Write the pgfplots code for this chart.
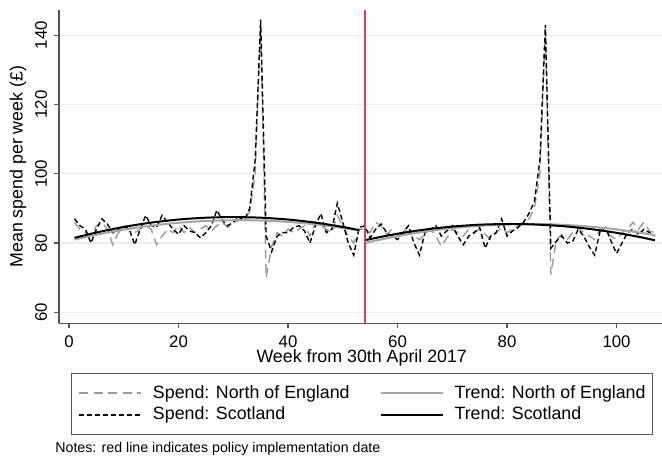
\documentclass[border=0pt]{standalone}
\usepackage{fontspec}
\setmainfont{Liberation Sans}
\usepackage{pgfplots}
\usepackage{pgfplotstable}
\pgfplotsset{compat=1.18}
\definecolor{redline}{RGB}{214,62,92}
\definecolor{gridc}{RGB}{230,238,241}
\definecolor{axc}{RGB}{85,85,85}
\definecolor{noe}{RGB}{155,155,155}
\definecolor{noetr}{RGB}{165,165,165}

\pgfplotstableread{
week scot noe
1 87 86
2 85 84
3 84 83
4 80 82
5 84 85
6 87 86
7 85.5 84
8 83 79.5
9 84 83
10 85 84
11 84 85
12 79.5 83
13 84 84
14 88 85
15 85 84
16 84.5 79.5
17 88 82
18 86 84
19 84 83
20 82.5 85
21 85 83
22 83.5 84.5
23 83 83
24 81.5 84
25 83 85
26 85 83.5
27 89.5 85
28 86.5 86
29 85 84.5
30 86 86
31 87.5 86.5
32 86.5 87
33 90 89
34 104 100
35 144.5 143
36 82 70
37 77.5 79
38 82 83
39 83 82
40 83 84
41 84.5 83
42 85 84
43 83.5 85
44 80 82
45 85 86
46 88.5 85
47 83 84
48 84 83
49 91.5 88
50 86 85
51 80 82
52 76.5 80
53 84.5 84
54 85 84
55 81.5 83
56 84 86
57 85.5 85
58 83 82.5
59 82 84
60 81 82
61 83 84
62 85 83
63 80 82
64 76.5 81
65 83 82.5
66 84 84
67 85 82
68 82 79
69 83.5 81.5
70 85 84
71 82 83
72 79.5 82
73 82 84
74 83 83
75 84.5 84
76 78.5 82.5
77 82 81
78 83 83
79 87 84.5
80 82 83
81 83.5 84
82 84.5 85
83 86 85.5
84 88.5 87
85 92 90
86 104 100
87 143 142
88 78.5 71
89 80.5 81
90 82 82.5
91 80 81
92 80.5 83
93 84 84.5
94 82 83
95 79 82
96 76.5 81
97 83.5 84
98 84.5 83
99 80.5 82
100 77 81
101 80 83
102 83 84
103 84 86
104 82.5 84
105 84 86
106 83 83.5
107 82 83
}\spend

\pgfplotstableread{
x y
1 81.5
5 83.04
10 84.65
15 85.9
20 86.79
25 87.32
30 87.5
35 87.32
40 86.79
45 85.9
50 84.65
53 83.73
}\scotA
\pgfplotstableread{
x y
54 80.8
58 82.11
62 83.21
66 84.09
70 84.76
75 85.3
80.5 85.5
85 85.36
90 84.9
95 84.09
100 82.95
104 81.8
107 80.8
}\scotB
\pgfplotstableread{
x y
1 81.0
5 82.4
10 83.86
15 85.01
20 85.85
25 86.38
31 86.6
35 86.5
40 86.1
45 85.38
50 84.35
53 83.59
}\noeA
\pgfplotstableread{
x y
54 80.0
58 81.37
62 82.54
66 83.52
70 84.3
75 85.0
80 85.4
84 85.5
88 85.4
92 85.1
96 84.62
100 83.94
104 83.06
107 82.27
}\noeB

\begin{document}
\begin{tikzpicture}
\useasboundingbox (-29.5pt,-65.85pt) rectangle (301.5pt,161.65pt);
\begin{axis}[
  width=301.5pt, height=156.65pt, scale only axis,
  xmin=-1.83, xmax=108.3, ymin=56.82, ymax=147.3,
  axis x line*=bottom, axis y line*=left,
  axis line style={axc, line width=0.7pt},
  xtick={0,20,...,100}, ytick={60,80,...,140},
  tick align=outside, major tick length=2.5pt,
  tick style={axc, line width=0.7pt},
  ymajorgrids, grid style={gridc, line width=0.6pt},
  /pgf/number format/assume math mode=true,
  tick label style={font=\fontsize{8.4}{10}\selectfont},
  yticklabel style={rotate=90, anchor=south},
  label style={font=\fontsize{8.9}{10}\selectfont},
  xlabel={Week from 30th April 2017},
  ylabel={Mean spend per week (£)},
  xlabel style={at={(axis description cs:0.502,0)}, anchor=center, yshift=-17.35pt},
  ylabel style={at={(axis description cs:-0.068,0.5)}, anchor=center},
  legend columns=2,
  legend cell align=left,
  legend image code/.code={\draw[#1] (0pt,0pt) -- (31pt,0pt);},
  legend style={at={(axis description cs:0.0199,-0.1586)}, anchor=north west,
    draw=axc, line width=0.6pt, font=\fontsize{8.9}{10}\selectfont,
    inner xsep=3.5pt, inner ysep=5.8pt, row sep=3pt,
    nodes={inner sep=0pt},
    /tikz/every odd column/.append style={column sep=5.5pt},
    /tikz/every even column/.append style={column sep=15pt}},
]
\addplot[noe, line width=0.7pt, dash pattern=on 4.5pt off 2.7pt, forget plot] table[x=week,y=noe]{\spend};
\addplot[black, line width=0.7pt, dash pattern=on 2.5pt off 1.5pt, forget plot] table[x=week,y=scot]{\spend};
\addplot[noetr, line width=1pt, smooth, forget plot] table[x=x,y=y]{\noeA};
\addplot[noetr, line width=1pt, smooth, forget plot] table[x=x,y=y]{\noeB};
\addplot[black, line width=1pt, smooth, forget plot] table[x=x,y=y]{\scotA};
\addplot[black, line width=1pt, smooth, forget plot] table[x=x,y=y]{\scotB};
\addplot[redline, line width=1pt, forget plot] coordinates {(54,56.82) (54,147.3)};
\addlegendimage{noe, line width=0.7pt, dash pattern=on 4.5pt off 2.7pt}
\addlegendentry{Spend: North of England}
\addlegendimage{noetr, line width=1pt}
\addlegendentry{Trend: North of England}
\addlegendimage{black, line width=0.7pt, dash pattern=on 2.5pt off 1.5pt}
\addlegendentry{Spend: Scotland}
\addlegendimage{black, line width=1pt}
\addlegendentry{Trend: Scotland}
\end{axis}
\node[anchor=west, font=\fontsize{7.1}{8}\selectfont, inner sep=0pt] at (-2pt,-62.6pt) {Notes: red line indicates policy implementation date};
\end{tikzpicture}
\end{document}
